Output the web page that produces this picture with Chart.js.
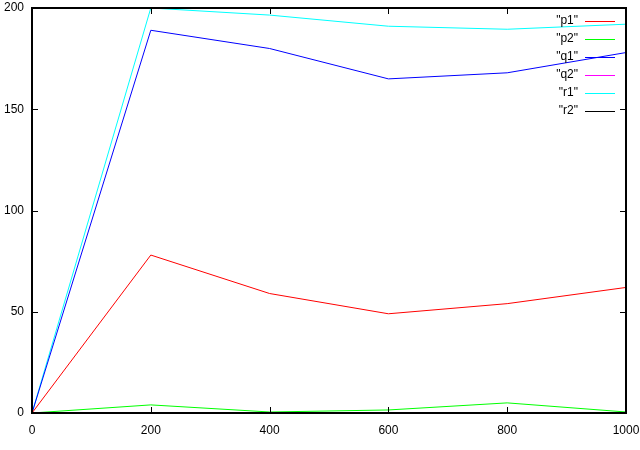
<!DOCTYPE html>
<html>
<head>
<meta charset="utf-8">
<script src="https://cdn.jsdelivr.net/npm/chart.js@4.4.0/dist/chart.umd.min.js"></script>
<style>
  html, body { margin: 0; padding: 0; background: #fff; }
  #wrap { width: 640px; height: 450px; }
</style>
</head>
<body>
<div id="wrap"><canvas id="c" width="640" height="450"></canvas></div>
<script>
// x positions shared by all series
var xs = [0, 200, 400, 600, 800, 1000];
var xTicks = [0, 200, 400, 600, 800, 1000];
var yTicks = [0, 50, 100, 150, 200];

var names = ['"p1"', '"p2"', '"q1"', '"q2"', '"r1"', '"r2"'];
var colors = ['#ff0000', '#00ff00', '#0000ff', '#ff00ff', '#00ffff', '#000000'];

var p1 = [0, 78, 59, 49, 54, 62];
var p2 = [0, 4, 0.5, 1.5, 5, 0.5];
var q1 = [0, 189, 180, 165, 168, 178];
var q2 = [0, 0, 0, 0, 0, 0];
var r1 = [0, 200, 196.5, 191, 189.5, 192];
var r2 = [0, 0, 0, 0, 0, 0];

var series = [p1, p2, q1, q2, r1, r2];

function toPoints(vals) {
    return vals.map(function (v, i) { return {x: xs[i], y: v}; });
}

var datasets = series.map(function (vals, i) {
    return {
        label: names[i],
        data: toPoints(vals),
        borderColor: colors[i],
        backgroundColor: colors[i],
        borderWidth: 1,
        pointRadius: 0,
        tension: 0,
        fill: false
    };
});

var FAMILY = '"Liberation Sans", Arial, sans-serif';

// frame, mirrored inward ticks and key, gnuplot style
var framePlugin = {
    id: 'frame',
    afterDraw: function (chart) {
        var ctx = chart.ctx;
        var a = chart.chartArea;
        var xs_ = chart.scales.x, ys_ = chart.scales.y;
        ctx.save();
        ctx.strokeStyle = '#000';
        ctx.lineWidth = 1;
        ctx.beginPath();
        xTicks.forEach(function (t) {
            var px = Math.round(xs_.getPixelForValue(t)) + 0.5;
            ctx.moveTo(px, a.bottom); ctx.lineTo(px, a.bottom - 6);
            ctx.moveTo(px, a.top); ctx.lineTo(px, a.top + 6);
        });
        yTicks.forEach(function (t) {
            var py = Math.round(ys_.getPixelForValue(t)) + 0.5;
            ctx.moveTo(a.left, py); ctx.lineTo(a.left + 6, py);
            ctx.moveTo(a.right, py); ctx.lineTo(a.right - 6, py);
        });
        ctx.stroke();
        ctx.lineWidth = 2;
        ctx.strokeRect(a.left, a.top, a.right - a.left, a.bottom - a.top);

        // key
        ctx.font = '12px ' + FAMILY;
        ctx.textAlign = 'right';
        ctx.textBaseline = 'middle';
        chart.data.datasets.forEach(function (ds, i) {
            var y = 21 + i * 18;
            ctx.fillStyle = '#000';
            ctx.fillText(ds.label, 578, y);
            ctx.fillStyle = ds.borderColor;
            ctx.fillRect(585, y, 30, 1);
        });
        ctx.restore();
    }
};

new Chart(document.getElementById('c').getContext('2d'), {
    type: 'line',
    data: { datasets: datasets },
    options: {
        responsive: false,
        animation: false,
        layout: { padding: { top: 8, right: 14, left: 0, bottom: 0 } },
        plugins: { legend: { display: false }, tooltip: { enabled: false } },
        scales: {
            x: {
                type: 'linear',
                min: 0, max: 1000,
                grid: { display: false, drawTicks: false, tickLength: 0 },
                border: { display: false },
                afterFit: function (s) { s.height = 37; s.paddingLeft = 0; s.paddingRight = 0; },
                afterBuildTicks: function (s) { s.ticks = xTicks.map(function (v) { return {value: v}; }); },
                ticks: {
                    color: '#000', font: { family: FAMILY, size: 12 }, padding: 10, maxRotation: 0,
                    callback: function (v) { return String(v); }
                }
            },
            y: {
                min: 0, max: 200,
                grid: { display: false, drawTicks: false, tickLength: 0 },
                border: { display: false },
                afterFit: function (s) { s.width = 32; s.paddingTop = 0; s.paddingBottom = 0; },
                afterBuildTicks: function (s) { s.ticks = yTicks.map(function (v) { return {value: v}; }); },
                ticks: {
                    color: '#000', font: { family: FAMILY, size: 12 }, padding: 8,
                    callback: function (v) { return String(v); }
                }
            }
        }
    },
    plugins: [framePlugin]
});
</script>
</body>
</html>
